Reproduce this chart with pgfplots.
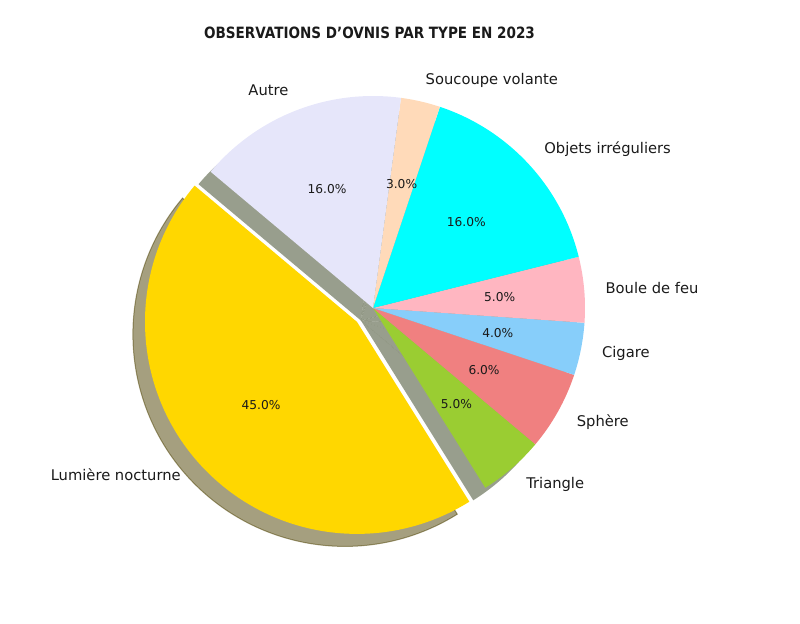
\documentclass[border=0pt]{standalone}
\usepackage{pgfplots}
\pgfplotsset{compat=1.18}
\usepackage{pgfplotstable}
\usepackage{fontspec}
\setmainfont{DejaVu Sans}
\newfontfamily\titlefont{DejaVu Sans}[FakeStretch=0.87]

\definecolor{cgold}{HTML}{FFD700}
\definecolor{cyellowgreen}{HTML}{9ACD32}
\definecolor{clightcoral}{HTML}{F08080}
\definecolor{clightskyblue}{HTML}{87CEFA}
\definecolor{clightpink}{HTML}{FFB6C1}
\definecolor{ccyan}{HTML}{00FFFF}
\definecolor{cpeachpuff}{HTML}{FFDAB9}
\definecolor{clavender}{HTML}{E6E6FA}
\definecolor{txt}{HTML}{1A1A1A}
\definecolor{shcommon}{RGB}{50,62,27}

\pgfplotstableread[col sep=comma]{
label,value,color,explode
Lumière nocturne,45,cgold,0.1
Triangle,5,cyellowgreen,0
Sphère,6,clightcoral,0
Cigare,4,clightskyblue,0
Boule de feu,5,clightpink,0
Objets irréguliers,16,ccyan,0
Soucoupe volante,3,cpeachpuff,0
Autre,16,clavender,0
}\piedata

\def\pieR{152.64pt}
\def\shx{-0.057}
\def\shy{-0.059}

\tikzset{
  lbl/.style={inner sep=0pt, text=txt, font=\fontsize{10.6}{12}\selectfont},
  pct/.style={inner sep=0pt, text=txt, font=\fontsize{8.8}{10}\selectfont},
}

% #1 = 0 shadows, 1 wedges, 2 texts
\newcommand\pielayer[1]{%
  \pgfplotstablegetrowsof{\piedata}%
  \pgfmathtruncatemacro\lastrow{\pgfplotsretval-1}%
  \xdef\cumang{140}%
  \pgfplotsforeachungrouped \i in {0,...,\lastrow}{%
    \pgfplotstablegetelem{\i}{value}\of\piedata \let\pv\pgfplotsretval
    \pgfplotstablegetelem{\i}{color}\of\piedata \let\pc\pgfplotsretval
    \pgfplotstablegetelem{\i}{explode}\of\piedata \let\pe\pgfplotsretval
    \pgfplotstablegetelem{\i}{label}\of\piedata \let\pl\pgfplotsretval
    \pgfmathsetmacro\angA{\cumang}%
    \pgfmathsetmacro\angB{\cumang+3.6*\pv}%
    \pgfmathsetmacro\angM{(\angA+\angB)/2}%
    \pgfmathsetmacro\cx{\pe*cos(\angM)}%
    \pgfmathsetmacro\cy{\pe*sin(\angM)}%
    \ifnum#1=0
      \pgfmathsetmacro\sx{\cx+\shx}%
      \pgfmathsetmacro\sy{\cy+\shy}%
      \pgfmathsetmacro\px{\sx+cos(\angA)}%
      \pgfmathsetmacro\py{\sy+sin(\angA)}%
      \pgfmathtruncatemacro\isexp{\pe>0}%
      \ifnum\isexp=1
        \edef\temp{\noexpand\path[fill=\pc!30!black, draw=\pc!30!black, opacity=0.5, line width=0.72pt] (axis cs:\sx,\sy) -- (axis cs:\px,\py) arc[start angle=\angA, end angle=\angB, radius=\pieR] -- cycle;}\temp
      \else
        \edef\temp{\noexpand\path[fill=shcommon, fill opacity=0.5] (axis cs:\sx,\sy) -- (axis cs:\px,\py) arc[start angle=\angA, end angle=\angB, radius=\pieR] -- cycle;}\temp
      \fi
    \fi
    \ifnum#1=1
      \pgfmathsetmacro\px{\cx+cos(\angA)}%
      \pgfmathsetmacro\py{\cy+sin(\angA)}%
      \edef\temp{\noexpand\fill[\pc] (axis cs:\cx,\cy) -- (axis cs:\px,\py) arc[start angle=\angA, end angle=\angB, radius=\pieR] -- cycle;}\temp
    \fi
    \ifnum#1=2
      \pgfmathsetmacro\lx{\cx+1.1*cos(\angM)}%
      \pgfmathsetmacro\ly{\cy+1.1*sin(\angM)}%
      \pgfmathsetmacro\tx{\cx+0.6*cos(\angM)}%
      \pgfmathsetmacro\ty{\cy+0.6*sin(\angM)}%
      \pgfmathtruncatemacro\side{cos(\angM)>0}%
      \ifnum\side=1 \def\anc{west}\else\def\anc{east}\fi
      \pgfmathprintnumberto[fixed, fixed zerofill, precision=1, assume math mode=true]{\pv}{\pctstr}%
      \edef\temp{\noexpand\node[lbl, anchor=\anc] at (axis cs:\lx,\ly) {\pl};}\temp
      \edef\temp{\noexpand\node[pct, anchor=center] at (axis cs:\tx,\ty) {\pctstr\noexpand\%};}\temp
    \fi
    \xdef\cumang{\angB}%
  }%
}

\begin{document}
\begin{tikzpicture}
\useasboundingbox (0,0) rectangle (576pt,449.28pt);
\begin{axis}[
  x=\pieR, y=\pieR,
  xmin=-1.4, xmax=1.4, ymin=-1.4, ymax=1.4,
  hide axis, clip=false,
  at={(268.56pt,227.52pt)}, anchor=center,
]
\pielayer{0}
\pielayer{1}
\pielayer{2}
\end{axis}
\node[text=txt, font=\titlefont\bfseries\fontsize{11.2}{13}\selectfont, inner sep=0pt] at (266.04pt,425.52pt) {OBSERVATIONS D’OVNIS PAR TYPE EN 2023};
\end{tikzpicture}
\end{document}
